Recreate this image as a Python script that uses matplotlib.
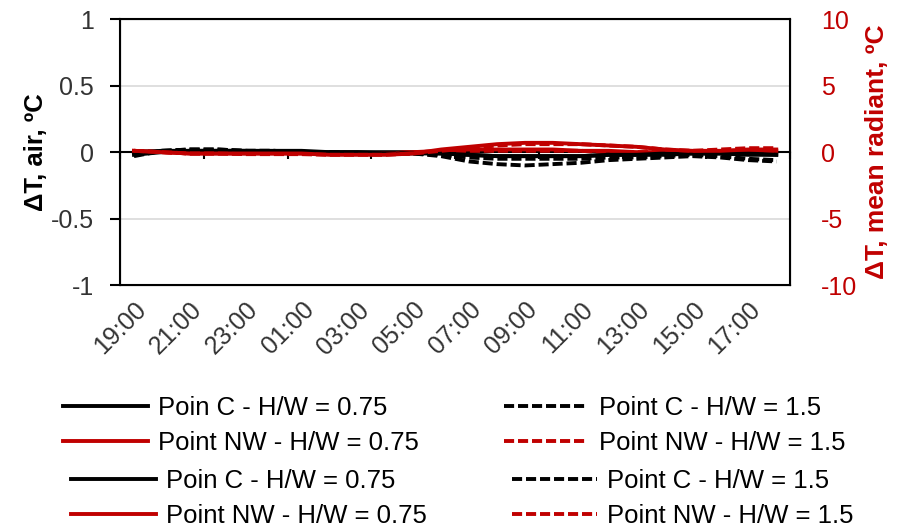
import matplotlib
matplotlib.use('Agg')
import matplotlib.pyplot as plt
import numpy as np

plt.rcParams['font.family'] = ['Liberation Sans', 'DejaVu Sans']
plt.rcParams['axes.unicode_minus'] = False

hours = ['19:00', '20:00', '21:00', '22:00', '23:00', '00:00', '01:00', '02:00',
         '03:00', '04:00', '05:00', '06:00', '07:00', '08:00', '09:00', '10:00',
         '11:00', '12:00', '13:00', '14:00', '15:00', '16:00', '17:00', '18:00']

# air temperature difference, left axis (ºC)
air_c_075 = [-0.02, 0.0, 0.01, 0.01, 0.01, 0.01, 0.01, 0.0, 0.0, 0.0, 0.0, -0.01,
             -0.02, -0.03, -0.03, -0.03, -0.03, -0.02, -0.02, -0.02, -0.01, -0.01, -0.02, -0.02]
air_c_15 = [-0.03, 0.01, 0.02, 0.02, 0.01, 0.01, 0.0, 0.0, -0.01, -0.01, -0.01, -0.03,
            -0.07, -0.09, -0.10, -0.09, -0.08, -0.06, -0.05, -0.04, -0.03, -0.04, -0.06, -0.07]
air_nw_075 = [0.01, 0.0, -0.01, -0.01, -0.01, -0.01, -0.01, -0.01, -0.01, -0.01, 0.0, 0.01,
              0.02, 0.02, 0.02, 0.02, 0.01, 0.01, 0.0, 0.0, 0.0, 0.0, 0.01, 0.01]
air_nw_15 = [0.01, 0.0, -0.01, -0.01, -0.01, -0.01, -0.01, -0.01, -0.01, -0.01, 0.0, 0.0,
             0.01, 0.01, 0.01, 0.01, 0.01, 0.0, 0.0, 0.0, 0.0, 0.0, 0.0, 0.0]

# mean radiant temperature difference, right axis (ºC)
mrt_c_075 = [0.0, 0.1, 0.1, 0.1, 0.1, 0.0, 0.0, 0.0, 0.0, -0.1, -0.1, -0.1,
             -0.2, -0.3, -0.3, -0.3, -0.3, -0.2, -0.2, -0.1, -0.1, -0.1, -0.1, -0.2]
mrt_c_15 = [-0.2, 0.1, 0.2, 0.2, 0.1, 0.1, 0.0, 0.0, -0.1, -0.1, -0.1, -0.2,
            -0.4, -0.5, -0.5, -0.5, -0.5, -0.4, -0.4, -0.3, -0.2, -0.3, -0.5, -0.6]
mrt_nw_075 = [0.1, 0.0, -0.1, -0.1, -0.1, -0.1, -0.1, -0.2, -0.2, -0.2, -0.1, 0.2,
              0.4, 0.6, 0.7, 0.7, 0.6, 0.5, 0.4, 0.2, 0.1, 0.1, 0.2, 0.2]
mrt_nw_15 = [0.1, 0.0, -0.1, -0.1, -0.15, -0.15, -0.15, -0.2, -0.2, -0.2, -0.1, 0.1,
             0.3, 0.5, 0.6, 0.6, 0.6, 0.5, 0.4, 0.2, 0.1, 0.2, 0.3, 0.3]

red = '#C00000'
x = np.arange(len(hours))
dash = (2.6, 1.0)
lw = 2.8

fig = plt.figure(figsize=(8.99, 5.32), dpi=100)
ax = fig.add_axes([0.1335, 0.464, 0.7455, 0.5])
ax2 = ax.twinx()

l1, = ax.plot(x, air_c_075, color='black', lw=lw, label='Poin C - H/W = 0.75')
l2, = ax.plot(x, air_c_15, color='black', lw=lw, dashes=dash, label='Point C - H/W = 1.5')
l3, = ax.plot(x, air_nw_075, color=red, lw=lw, label='Point NW - H/W = 0.75')
l4, = ax.plot(x, air_nw_15, color=red, lw=lw, dashes=dash, label='Point NW - H/W = 1.5')
l5, = ax2.plot(x, mrt_c_075, color='black', lw=lw, label='Poin C - H/W = 0.75')
l6, = ax2.plot(x, mrt_c_15, color='black', lw=lw, dashes=dash, label='Point C - H/W = 1.5')
l7, = ax2.plot(x, mrt_nw_075, color=red, lw=lw, label='Point NW - H/W = 0.75')
l8, = ax2.plot(x, mrt_nw_15, color=red, lw=lw, dashes=dash, label='Point NW - H/W = 1.5')

ax.set_xlim(-0.5, len(hours) - 0.5)
ax.set_ylim(-1, 1)
ax.set_yticks([-1, -0.5, 0, 0.5, 1])
ax.set_yticklabels(['-1', '-0.5', '0', '0.5', '1'])
ax.set_xticks(x[::2])
ax.set_xticklabels(hours[::2], rotation=45, ha='right', rotation_mode='anchor')
ax.tick_params(axis='x', length=0, pad=9, labelsize=18, labelcolor='#333333')
ax.tick_params(axis='y', length=7, width=1.5, pad=12, labelsize=18, labelcolor='#333333')
for yv in [-0.5, 0.5]:
    ax.axhline(yv, color='#D9D9D9', lw=1.2, zorder=0)
for s in ax.spines.values():
    s.set_linewidth(1.5)
ax.set_ylabel('ΔT, air, ºC', fontsize=18.5, fontweight='bold', labelpad=2)

# zero line with category tick marks
sec = ax.secondary_xaxis(0.5)
sec.set_xticks(np.arange(-0.5, len(hours), 3))
sec.set_xticklabels([])
sec.tick_params(length=5, width=1.5, direction='in')
for s in sec.spines.values():
    s.set_linewidth(1.5)

ax2.set_ylim(-10, 10)
ax2.set_yticks([-10, -5, 0, 5, 10])
ax2.tick_params(axis='y', length=0, pad=22, labelsize=18, labelcolor=red)
ax2.set_ylabel('ΔT, mean radiant, ºC', fontsize=19, fontweight='bold', color=red, labelpad=6)

leg_kw = dict(ncol=2, loc='upper left', frameon=False, fontsize=18.5, borderpad=0,
              borderaxespad=0, handlelength=3.3, handletextpad=0.4,
              labelspacing=0.45, columnspacing=3.3)
leg1 = fig.legend([l1, l3, l2, l4], [l1.get_label(), l3.get_label(), l2.get_label(), l4.get_label()],
                  bbox_to_anchor=(0.070, 0.256), **leg_kw)
leg2 = fig.legend([l5, l7, l6, l8], [l5.get_label(), l7.get_label(), l6.get_label(), l8.get_label()],
                  bbox_to_anchor=(0.079, 0.119), **leg_kw)

fig.savefig('out.png', dpi=100)
